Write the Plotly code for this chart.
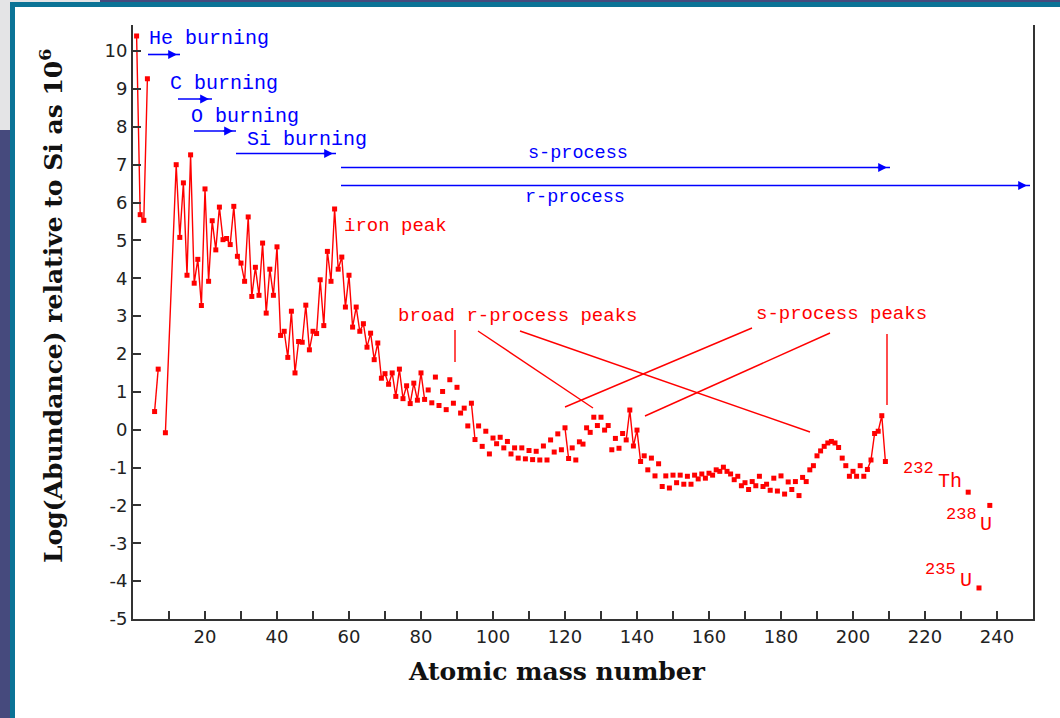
import plotly.graph_objects as go

# ---------------- data ----------------
MASS_NUMBER = [1, 2, 3, 4, 6, 7, 9,
               12, 13, 14, 15, 16, 17, 18, 19, 20, 21, 22, 23, 24, 25, 26, 27, 28, 29, 30,
               31, 32, 33, 34, 35, 36, 37, 38, 39, 40, 41, 42, 43, 44, 45, 46, 47, 48, 49, 50,
               51, 52, 53, 54, 55, 56, 57, 58, 59, 60, 61, 62, 63, 64, 65, 66, 67, 68, 69, 70,
               71, 72, 73, 74, 75, 76, 77, 78, 79, 80, 81, 82, 83, 84, 85, 86, 87, 88, 89, 90,
               91, 92, 93, 94, 95, 96, 97, 98, 99, 100, 101, 102, 103, 104, 105, 106, 107, 108, 109, 110,
               111, 112, 113, 114, 115, 116, 117, 118, 119, 120, 121, 122, 123, 124, 125, 126, 127, 128, 129, 130,
               131, 132, 133, 134, 135, 136, 137, 138, 139, 140, 141, 142, 143, 144, 145, 146, 147, 148, 149, 150,
               151, 152, 153, 154, 155, 156, 157, 158, 159, 160, 161, 162, 163, 164, 165, 166, 167, 168, 169, 170,
               171, 172, 173, 174, 175, 176, 177, 178, 179, 180, 181, 182, 183, 184, 185, 186, 187, 188, 189, 190,
               191, 192, 193, 194, 195, 196, 197, 198, 199, 200, 201, 202, 203, 204, 205, 206, 207, 208, 209]
LOG_ABUNDANCE = [10.40, 5.68, 5.53, 9.27, 0.48, 1.60, -0.08,
                 7.00, 5.08, 6.52, 4.08, 7.26, 3.87, 4.50, 3.28, 6.36, 3.92, 5.52, 4.75, 5.88, 5.02, 5.05, 4.89, 5.90, 4.58, 4.40,
                 3.92, 5.62, 3.52, 4.29, 3.55, 4.93, 3.08, 4.24, 3.55, 4.83, 2.49, 2.60, 1.91, 3.13, 1.50, 2.33, 2.31, 3.29, 2.11, 2.60,
                 2.54, 3.96, 2.75, 4.71, 3.92, 5.83, 4.24, 4.56, 3.24, 4.08, 2.71, 3.24, 2.60, 2.80, 2.18, 2.55, 1.85, 2.29, 1.36, 1.48,
                 1.20, 1.50, 0.88, 1.60, 0.82, 1.16, 0.69, 1.23, 0.78, 1.50, 0.80, 1.05, 0.71, 1.39, 0.64, 1.01, 0.53, 1.32, 0.70, 1.12,
                 0.44, 0.57, 0.10, 0.70, -0.26, 0.10, -0.44, -0.04, -0.64, -0.22, -0.37, -0.20, -0.48, -0.31, -0.64, -0.48, -0.75, -0.48, -0.77, -0.55,
                 -0.79, -0.57, -0.80, -0.43, -0.80, -0.27, -0.59, -0.11, -0.53, 0.05, -0.76, -0.48, -0.80, -0.32, -0.38, 0.05, -0.07, 0.33, 0.11, 0.33,
                 -0.01, 0.11, -0.53, -0.23, -0.49, -0.10, -0.27, 0.52, -0.43, -0.01, -0.84, -0.69, -1.06, -0.75, -1.22, -0.90, -1.50, -1.22, -1.54, -1.20,
                 -1.40, -1.20, -1.44, -1.23, -1.44, -1.20, -1.30, -1.17, -1.28, -1.15, -1.20, -1.06, -1.10, -0.99, -1.10, -1.17, -1.32, -1.23, -1.48, -1.40,
                 -1.58, -1.37, -1.48, -1.23, -1.50, -1.44, -1.60, -1.28, -1.62, -1.22, -1.70, -1.38, -1.58, -1.37, -1.74, -1.26, -1.37, -1.06, -0.95, -0.69,
                 -0.56, -0.44, -0.35, -0.31, -0.35, -0.47, -0.75, -0.95, -1.23, -1.10, -1.23, -0.95, -1.23, -1.05, -0.80, -0.10, -0.04, 0.37, -0.84]
# runs of mass numbers joined by a line in the original
CONNECTED_RUNS = [(1, 4), (6, 7), (9, 81), (94, 95), (120, 121), (137, 141), (204, 209)]

ACTINIDE_MASS = [232, 235, 238]
ACTINIDE_LOG = [-1.65, -4.18, -2.00]

X_TICKS = list(range(20, 241, 20))
Y_TICKS = list(range(-5, 11))

# ---------------- helpers (pixel -> axis / paper) ----------------
W, H = 1060, 718
L, R, T, B = 133, 1033, 25, 619
YMIN, YMAX = -5.0, 10.69


def dx(px):
    return (px - L) / (R - L) * 250.0


def dy(py):
    return YMAX - (py - T) / (B - T) * (YMAX - YMIN)


def pxp(px):
    return (px - L) / (R - L)


def pyp(py):
    return (B - py) / (B - T)


RED = "#ff0000"
BLUE = "#0000ff"
AXC = "#333333"
MONO = "Liberation Mono, Courier New, monospace"

# line data with breaks
lx, ly = [], []
for a0, a1 in CONNECTED_RUNS:
    for a, v in zip(MASS_NUMBER, LOG_ABUNDANCE):
        if a0 <= a <= a1:
            lx.append(a)
            ly.append(v)
    lx.append(None)
    ly.append(None)

fig = go.Figure()
fig.add_trace(go.Scatter(x=lx, y=ly, mode="lines", line=dict(color=RED, width=1.4),
                         hoverinfo="skip", showlegend=False))
fig.add_trace(go.Scatter(x=MASS_NUMBER, y=LOG_ABUNDANCE, mode="markers",
                         marker=dict(symbol="square", size=5, color=RED, line=dict(width=0)),
                         showlegend=False))
fig.add_trace(go.Scatter(x=ACTINIDE_MASS, y=ACTINIDE_LOG, mode="markers",
                         marker=dict(symbol="square", size=5, color=RED, line=dict(width=0)),
                         showlegend=False))

shapes = []
annotations = []

# ---------------- window frame (screenshot border) ----------------
PURPLE = "#464a7d"
TEAL = "#0b7396"
GRAY = "#e4e4e6"


def prect(x0, y0, x1, y1, color):
    shapes.append(dict(type="rect", xref="paper", yref="paper",
                       x0=pxp(x0), x1=pxp(x1), y0=pyp(y1), y1=pyp(y0),
                       fillcolor=color, line=dict(width=0), layer="above"))


prect(0, 0, 10, H, PURPLE)
prect(0, 0, 10, 130, GRAY)
prect(0, 0, W, 2, PURPLE)
prect(0, 0, 100, 2, GRAY)
prect(10, 2, 15, H, TEAL)
prect(10, 2, W, 7, TEAL)

# ---------------- blue process arrows ----------------
ARROWS = [  # (x_start_px, x_end_px, y_px)
    (148, 180, 54.5), (178, 212, 99), (194, 236, 131), (236, 336, 153.5),
    (341, 890, 167.5), (341, 1030, 185.5)]
for x0, x1, yy in ARROWS:
    shapes.append(dict(type="line", xref="x", yref="y", x0=dx(x0), x1=dx(x1), y0=dy(yy), y1=dy(yy),
                       line=dict(color=BLUE, width=1.6)))
    annotations.append(dict(x=dx(x1 - 3), y=dy(yy), ax=dx(x1 - 14), ay=dy(yy), axref="x", ayref="y",
                            xref="x", yref="y", text="", showarrow=True, arrowhead=2,
                            arrowsize=1.1, arrowwidth=1.6, arrowcolor=BLUE, standoff=0))

BLUE_TEXT = [("He burning", 147, 38, 20), ("C burning", 168, 83, 20), ("O burning", 189, 116, 20),
             ("Si burning", 245, 139, 20), ("s-process", 526, 153, 18.5), ("r-process", 523, 197, 18.5)]
for t, x, y, s in BLUE_TEXT:
    annotations.append(dict(x=dx(x), y=dy(y), xref="x", yref="y", text=t, showarrow=False,
                            xanchor="left", yanchor="middle", font=dict(family=MONO, size=s, color=BLUE)))

# ---------------- red labels and pointers ----------------
RED_TEXT = [("iron peak", 342, 226, 19), ("broad r-process peaks", 396, 316, 19),
            ("s-process peaks", 754, 314, 19),
            ("232", 901, 468, 17), ("Th", 936, 481, 20),
            ("238", 944, 514, 17), ("U", 978, 524, 20),
            ("235", 923, 569, 17), ("U", 958, 580, 20)]
for t, x, y, s in RED_TEXT:
    annotations.append(dict(x=dx(x), y=dy(y), xref="x", yref="y", text=t, showarrow=False,
                            xanchor="left", yanchor="middle", font=dict(family=MONO, size=s, color=RED)))

POINTERS = [(455, 330, 455, 362), (478, 331, 593, 408), (520, 331, 810, 432),
            (752, 328, 565, 407), (830, 333, 645, 416), (887, 334, 887, 405)]
for x0, y0, x1, y1 in POINTERS:
    shapes.append(dict(type="line", xref="x", yref="y", x0=dx(x0), y0=dy(y0), x1=dx(x1), y1=dy(y1),
                       line=dict(color=RED, width=1.4)))

# ---------------- axis titles ----------------
SERIF = "DejaVu Serif, serif"
annotations.append(dict(x=pxp(557), y=pyp(671), xref="paper", yref="paper",
                        text="<b>Atomic mass number</b>", showarrow=False,
                        xanchor="center", yanchor="middle", font=dict(family=SERIF, size=25, color="#111")))
annotations.append(dict(x=pxp(51), y=pyp(306), xref="paper", yref="paper",
                        text="<b>Log(Abundance) relative to Si as 10<sup>6</sup></b>", showarrow=False,
                        textangle=-90, xanchor="center", yanchor="middle",
                        font=dict(family=SERIF, size=25, color="#111")))

TICKFONT = dict(family="DejaVu Sans, sans-serif", size=18, color="#222")
fig.update_layout(
    width=W, height=H,
    margin=dict(l=L, r=W - R, t=T, b=H - B),
    paper_bgcolor="white", plot_bgcolor="white",
    shapes=shapes, annotations=annotations,
    xaxis=dict(range=[0, 250], tickvals=X_TICKS, ticktext=[str(v) for v in X_TICKS],
               ticks="inside", ticklen=8, tickwidth=2, tickcolor=AXC,
               minor=dict(dtick=10, tick0=0, ticks="inside", ticklen=8, tickwidth=2, tickcolor=AXC),
               showline=True, linecolor=AXC, linewidth=2, mirror=False,
               showgrid=False, zeroline=False, tickfont=TICKFONT),
    yaxis=dict(range=[YMIN, YMAX], tickvals=Y_TICKS, ticktext=[str(v) for v in Y_TICKS],
               ticks="inside", ticklen=8, tickwidth=2, tickcolor=AXC,
               showline=True, linecolor=AXC, linewidth=2, mirror=True,
               showgrid=False, zeroline=False, tickfont=TICKFONT),
)

fig.write_html("out.html", config={"displayModeBar": False},
               post_script="document.body.style.margin='0px';document.body.style.overflow='hidden';")
